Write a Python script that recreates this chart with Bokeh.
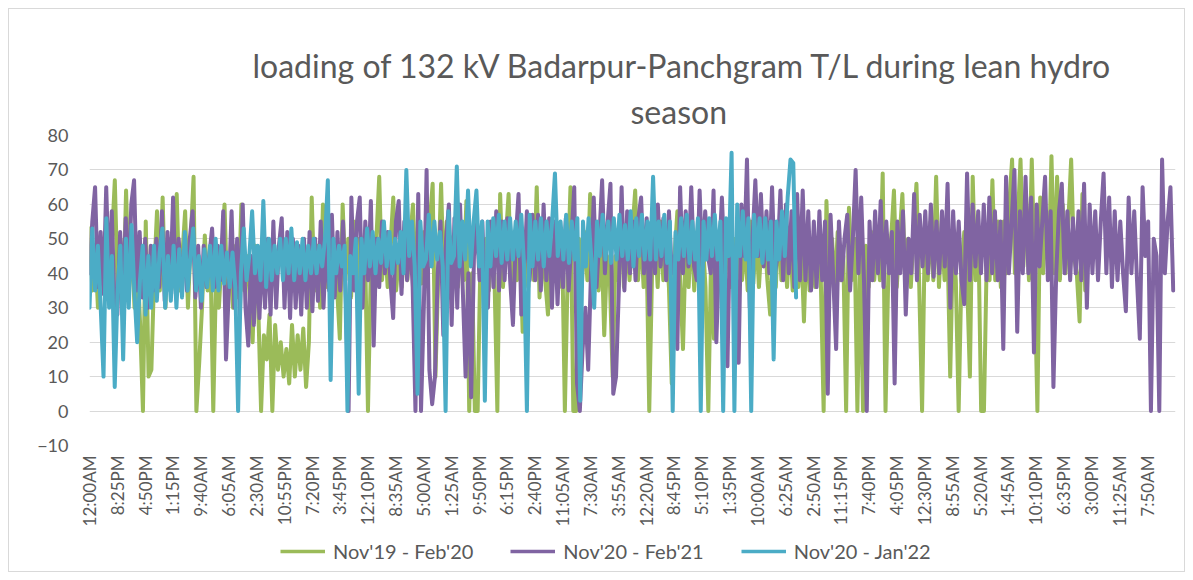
import math
import numpy as np
from bokeh.plotting import figure
from bokeh.layouts import column
from bokeh.models import Range1d, FixedTicker, Title, Legend, LegendItem
from bokeh.embed import file_html
from bokeh.resources import INLINE

# ---- x-axis (5-minute samples) ----
tick_labels = ["12:00AM", "8:25PM", "4:50PM", "1:15PM", "9:40AM", "6:05AM", "2:30AM",
               "10:55PM", "7:20PM", "3:45PM", "12:10PM", "8:35AM", "5:00AM", "1:25AM",
               "9:50PM", "6:15PM", "2:40PM", "11:05AM", "7:30AM", "3:55AM", "12:20AM",
               "8:45PM", "5:10PM", "1:35PM", "10:00AM", "6:25AM", "2:50AM", "11:15PM",
               "7:40PM", "4:05PM", "12:30PM", "8:55AM", "5:20AM", "1:45AM", "10:10PM",
               "6:35PM", "3:00PM", "11:25AM", "7:50AM"]
samples_per_label = 245
n_samples_axis = 9560
n_samples_green = 8790
n_samples_purple = 9540
n_samples_cyan = 6220

# ---- series values (MW) ----
green_vals = [
    53, 35, 48, 30, 50, 38, 45, 35, 50, 67,
    35, 50, 30, 64, 35, 50, 30, 45, 25, 0,
    55, 10, 12, 40, 58, 35, 62, 30, 50, 35,
    40, 63, 35, 45, 58, 30, 50, 68, 0, 14,
    30, 51, 35, 45, 0, 40, 30, 45, 60, 32,
    45, 30, 48, 33, 60, 35, 45, 33, 20, 48,
    30, 0, 22, 15, 28, 0, 25, 12, 20, 10,
    18, 8, 25, 10, 22, 12, 24, 7, 20, 62,
    35, 48, 30, 60, 36, 52, 30, 48, 36, 21,
    60, 38, 50, 33, 55, 35, 50, 38, 45, 0,
    40, 35, 50, 68, 38, 50, 36, 48, 62, 35,
    45, 36, 52, 38, 50, 60, 38, 50, 37, 52,
    40, 55, 66, 10, 40, 66, 35, 55, 33, 50,
    52, 36, 50, 38, 61, 0, 40, 0, 0, 45,
    38, 50, 35, 52, 38, 0, 63, 36, 50, 63,
    35, 52, 38, 50, 23, 48, 36, 55, 38, 65,
    33, 50, 38, 28, 50, 38, 55, 36, 50, 0,
    40, 65, 0, 0, 50, 36, 52, 38, 63, 38,
    52, 35, 50, 22, 45, 38, 10, 45, 38, 55,
    36, 50, 38, 52, 64, 38, 52, 36, 50, 0,
    40, 52, 36, 55, 38, 50, 36, 8, 45, 58,
    38, 18, 50, 36, 54, 35, 52, 38, 50, 36,
    0, 45, 21, 50, 36, 55, 38, 52, 36, 50,
    36, 54, 38, 50, 35, 55, 37, 52, 36, 50,
    52, 38, 28, 50, 36, 55, 38, 50, 36, 52,
    35, 48, 36, 50, 26, 52, 35, 50, 36, 48,
    38, 0, 61, 36, 50, 35, 52, 38, 45, 0,
    59, 38, 50, 0, 48, 0, 48, 36, 52, 38,
    50, 38, 69, 0, 40, 50, 64, 36, 50, 63,
    38, 50, 36, 52, 66, 36, 0, 52, 38, 55,
    38, 68, 36, 52, 38, 50, 10, 50, 38, 0,
    40, 52, 38, 10, 68, 38, 52, 0, 0, 45,
    38, 67, 38, 55, 36, 55, 40, 60, 73, 40,
    55, 73, 42, 62, 38, 73, 40, 0, 62, 40,
    55, 40, 74, 40, 68, 38, 60, 40, 55, 73,
    45, 40, 26, 63, 35, 45,
]

purple_vals = [
    40, 55, 65, 36, 52, 34, 65, 38, 58, 30,
    28, 52, 34, 56, 35, 60, 67, 35, 52, 33,
    50, 30, 48, 35, 50, 36, 58, 32, 52, 35,
    62, 34, 50, 38, 46, 35, 50, 58, 33, 48,
    30, 48, 36, 45, 53, 36, 48, 38, 58, 15,
    35, 58, 30, 50, 28, 60, 30, 19, 45, 25,
    45, 27, 48, 30, 50, 28, 55, 30, 48, 56,
    30, 52, 27, 50, 30, 48, 28, 50, 30, 52,
    29, 50, 32, 55, 30, 50, 35, 57, 33, 52,
    35, 55, 33, 0, 62, 35, 55, 62, 30, 55,
    38, 61, 19, 50, 36, 55, 40, 52, 38, 27,
    55, 61, 34, 55, 38, 52, 36, 0, 63, 0,
    30, 70, 12, 2, 10, 40, 55, 22, 50, 60,
    25, 56, 30, 60, 35, 10, 40, 4, 45, 55,
    38, 55, 32, 30, 55, 36, 58, 35, 55, 38,
    56, 38, 25, 50, 63, 28, 40, 58, 38, 57,
    38, 57, 35, 60, 38, 56, 30, 55, 31, 52,
    36, 56, 35, 50, 65, 8, 0, 18, 30, 12,
    40, 62, 36, 50, 67, 40, 55, 66, 5, 10,
    35, 65, 35, 58, 40, 55, 38, 56, 62, 40,
    56, 28, 58, 40, 60, 42, 56, 38, 58, 40,
    45, 18, 65, 40, 58, 42, 65, 42, 38, 64,
    42, 58, 45, 40, 64, 20, 45, 62, 42, 13,
    58, 45, 40, 14, 60, 45, 73, 30, 50, 67,
    45, 63, 42, 58, 40, 65, 40, 45, 64, 38,
    60, 40, 58, 36, 63, 38, 64, 38, 58, 35,
    55, 36, 58, 38, 55, 5, 57, 38, 18, 55,
    38, 50, 57, 35, 50, 70, 40, 62, 38, 0,
    55, 38, 58, 40, 61, 36, 55, 40, 52, 8,
    55, 40, 58, 28, 50, 40, 63, 38, 57, 42,
    58, 40, 60, 39, 55, 40, 58, 42, 66, 30,
    58, 40, 55, 38, 31, 69, 38, 60, 42, 58,
    40, 60, 38, 62, 40, 58, 38, 55, 18, 68,
    40, 55, 70, 23, 58, 40, 68, 40, 62, 17,
    60, 42, 55, 68, 38, 58, 7, 40, 58, 66,
    40, 58, 38, 56, 40, 58, 38, 66, 30, 60,
    40, 58, 38, 55, 69, 40, 62, 36, 58, 38,
    55, 40, 29, 62, 40, 58, 38, 21, 65, 45,
    55, 0, 50, 45, 0, 73, 40, 55, 65, 35,
]

cyan_vals = [
    30, 53, 35, 48, 30, 10, 56, 30, 45, 7,
    35, 48, 15, 50, 30, 54, 35, 20, 38, 48,
    28, 45, 30, 48, 32, 46, 53, 30, 45, 32,
    48, 30, 47, 33, 52, 35, 45, 53, 35, 45,
    32, 47, 36, 48, 35, 50, 35, 48, 37, 46,
    36, 46, 36, 0, 40, 53, 38, 45, 58, 40,
    48, 38, 61, 36, 50, 38, 48, 40, 50, 38,
    50, 40, 53, 38, 49, 40, 50, 38, 48, 40,
    50, 40, 48, 42, 50, 67, 9, 50, 40, 48,
    42, 48, 0, 45, 40, 50, 5, 50, 40, 53,
    42, 52, 40, 50, 43, 55, 42, 52, 40, 50,
    43, 52, 40, 70, 45, 55, 42, 5, 55, 42,
    44, 57, 42, 55, 44, 52, 42, 0, 58, 43,
    45, 71, 42, 55, 44, 64, 42, 55, 64, 42,
    55, 3, 55, 42, 56, 45, 57, 43, 55, 44,
    56, 44, 55, 45, 57, 42, 0, 57, 42, 55,
    44, 56, 42, 55, 45, 55, 69, 45, 55, 44,
    57, 43, 55, 44, 56, 3, 55, 42, 56, 44,
    30, 55, 45, 57, 44, 55, 43, 56, 44, 57,
    45, 54, 44, 58, 42, 56, 45, 57, 44, 55,
    44, 68, 44, 55, 45, 57, 43, 55, 0, 52,
    44, 56, 45, 57, 43, 55, 44, 56, 0, 55,
    44, 56, 45, 57, 44, 55, 0, 56, 45, 75,
    0, 60, 45, 58, 44, 56, 0, 57, 45, 56,
    43, 56, 44, 55, 15, 55, 44, 58, 45, 62,
    73, 72, 33,
]

series_names = ["Nov'19 - Feb'20", "Nov'20 - Feb'21", "Nov'20 - Jan'22"]
series_colors = ["#9BBB59", "#8064A2", "#4BACC6"]

TEXT = "#595959"
FONT = "Lato"

p = figure(frame_width=1086, frame_height=310, output_backend="svg", toolbar_location=None,
           x_range=Range1d(0, n_samples_axis), y_range=Range1d(-10, 80),
           min_border_left=89, min_border_right=18, min_border_top=135,
           min_border_bottom=92, background_fill_color="white",
           border_fill_color=None)
p.outline_line_color = None

t_season = Title(text="season", align="left", offset=541, text_font=FONT,
                 text_font_size="32px", text_font_style="normal", text_color=TEXT,
                 standoff=10)
t_main = Title(text="loading of 132 kV Badarpur-Panchgram  T/L during lean hydro",
               align="left", offset=163, text_font=FONT, text_font_size="32px",
               text_font_style="normal", text_color=TEXT, standoff=0)
p.add_layout(t_season, "above")
p.add_layout(t_main, "above")

series = []
for vals, n, col in zip([green_vals, purple_vals, cyan_vals],
                        [n_samples_green, n_samples_purple, n_samples_cyan],
                        series_colors):
    xs = np.linspace(0, n, len(vals))
    series.append((xs, vals, col))
    p.line(xs, vals, line_color=col, line_width=4, line_join="round", line_cap="round")

# axes
p.yaxis.ticker = FixedTicker(ticks=list(range(-10, 81, 10)))
p.yaxis.axis_line_color = None
p.yaxis.major_tick_line_color = None
p.yaxis.minor_tick_line_color = None
p.yaxis.major_tick_out = 0
p.yaxis.major_tick_in = 0
p.yaxis.major_label_standoff = 21
p.yaxis.major_label_text_font = FONT
p.yaxis.major_label_text_font_size = "18px"
p.yaxis.major_label_text_color = TEXT

ticks = [k * samples_per_label for k in range(len(tick_labels))]
p.xaxis.ticker = FixedTicker(ticks=ticks)
p.xaxis.major_label_overrides = {t: lbl for t, lbl in zip(ticks, tick_labels)}
p.xaxis.major_label_orientation = math.pi / 2
p.xaxis.axis_line_color = None
p.xaxis.major_tick_line_color = None
p.xaxis.minor_tick_line_color = None
p.xaxis.major_tick_out = 0
p.xaxis.major_tick_in = 0
p.xaxis.major_label_standoff = 10
p.xaxis.major_label_text_font = FONT
p.xaxis.major_label_text_font_size = "17px"
p.xaxis.major_label_text_color = TEXT

p.xgrid.grid_line_color = None
p.ygrid.grid_line_color = "#d9d9d9"
p.ygrid.grid_line_width = 1

# ---- legend strip under the chart ----
# The key renderers carry the same series, but this strip's y-range lies above
# every value, so only the legend keys are visible here.
pl = figure(width=1193, height=43, output_backend="svg", toolbar_location=None,
            x_range=Range1d(0, n_samples_axis), y_range=Range1d(1000, 1001), min_border=0,
            x_axis_location=None, y_axis_location=None,
            background_fill_color=None, border_fill_color=None)
pl.outline_line_color = None
pl.grid.visible = False
key_renderers = [pl.line(xs, vals, line_color=col, line_width=3.5) for xs, vals, col in series]
legend = Legend(items=[LegendItem(label=n, renderers=[r]) for n, r in zip(series_names, key_renderers)],
                orientation="horizontal", location=(191, 17), border_line_color=None,
                background_fill_alpha=0, label_text_font=FONT, label_text_font_size="20px",
                label_text_color=TEXT, glyph_width=45, spacing=37, label_standoff=8,
                padding=0, margin=0)
pl.add_layout(legend, "center")

layout = column(p, pl, spacing=0)
layout.styles = {"outline": "1px solid #d9d9d9", "outline-offset": "-9px"}

open("out.html", "w").write(file_html(layout, INLINE))
